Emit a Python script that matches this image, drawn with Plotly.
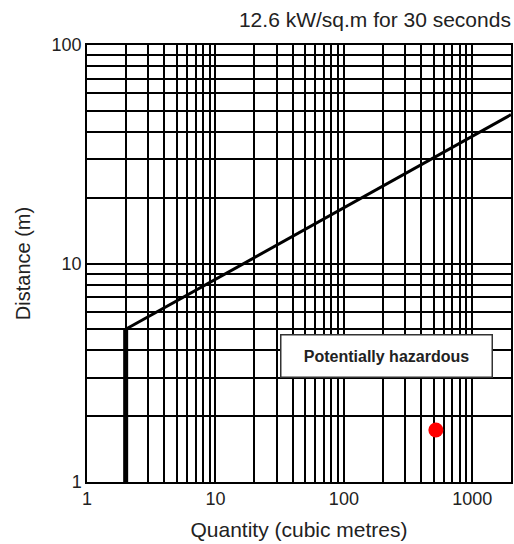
import math
import plotly.graph_objects as go

# Data
wall_x = [2, 2]
wall_y = [1, 5]
curve_x = [2, 2000]
curve_y = [5, 48]
point_x = [520]
point_y = [1.73]
x_decade_labels = ["1", "10", "100", "1000"]
y_decade_labels = ["1", "10", "100"]

FONT = "Liberation Sans, Arial, sans-serif"
TXT = "#222"

def log_ticks(decades, labels, upto):
    vals, texts = [], []
    for i, d in enumerate(decades):
        for m in range(1, 10):
            v = d * m
            if v > upto:
                break
            vals.append(v)
            texts.append(labels[i] if m == 1 else "")
    return vals, texts

xt_vals, xt_text = log_ticks([1, 10, 100, 1000], x_decade_labels, 1000)
yt_vals, yt_text = log_ticks([1, 10, 100], y_decade_labels, 100)

fig = go.Figure()
fig.add_trace(go.Scatter(x=wall_x, y=wall_y, mode="lines",
                         line=dict(color="black", width=5), hoverinfo="skip"))
fig.add_trace(go.Scatter(x=curve_x, y=curve_y, mode="lines",
                         line=dict(color="black", width=3), hoverinfo="skip"))
fig.add_trace(go.Scatter(x=point_x, y=point_y, mode="markers",
                         marker=dict(color="#ff0000", size=15, line=dict(width=0))))

fig.add_annotation(x=math.log10(213), y=math.log10(3.79), xref="x", yref="y",
                   text="<b>Potentially hazardous</b>", showarrow=False,
                   xanchor="center", yanchor="middle",
                   width=196, height=27, borderpad=7,
                   font=dict(family=FONT, size=16, color="#222"),
                   bgcolor="white", bordercolor="#333", borderwidth=1.5)

fig.update_layout(
    width=514, height=544,
    margin=dict(l=87, r=1, t=45, b=62),
    paper_bgcolor="white", plot_bgcolor="white",
    showlegend=False,
    font=dict(family=FONT, size=18, color=TXT),
    title=dict(text="12.6 kW/sq.m for 30 seconds", x=0.994, xanchor="right",
               y=0.964, yanchor="middle", font=dict(family=FONT, size=21, color=TXT)),
    xaxis=dict(type="log", range=[0, math.log10(2000)],
               tickvals=xt_vals, ticktext=xt_text, ticks="",
               showgrid=True, gridcolor="black", gridwidth=1.5,
               showline=True, linecolor="black", linewidth=1.5, mirror=True,
               zeroline=False, tickfont=dict(size=18, color=TXT),
               title=dict(text="Quantity (cubic metres)", standoff=14,
                          font=dict(size=21, color=TXT))),
    yaxis=dict(type="log", range=[0, 2],
               tickvals=yt_vals, ticktext=yt_text, ticks="",
               showgrid=True, gridcolor="black", gridwidth=1.5,
               showline=True, linecolor="black", linewidth=1.5, mirror=True,
               zeroline=False, tickfont=dict(size=18, color=TXT),
               title=dict(text="Distance (m)", standoff=16,
                          font=dict(size=20, color=TXT))),
)

fig.write_html("out.html", config={"displayModeBar": False},
               post_script="document.body.style.margin='0';document.body.style.overflow='hidden';")
